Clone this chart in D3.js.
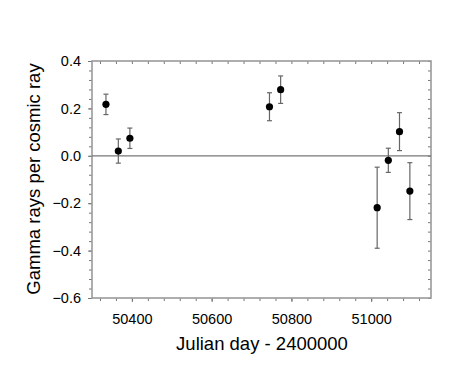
<!DOCTYPE html>
<html>
<head>
<meta charset="utf-8">
<script src="https://cdn.jsdelivr.net/npm/d3@7"></script>
<style>
  body { margin: 0; background: #fff; }
  text { font-family: "Liberation Sans", Arial, Helvetica, sans-serif; fill: #000; }
</style>
</head>
<body>
<div id="chart"></div>
<script>
// Julian day - 2400000
const days = [50335, 50366, 50395, 50745, 50773, 51015, 51043, 51071, 51097];
// gamma rays per cosmic ray
const rates = [0.217, 0.020, 0.074, 0.207, 0.279, -0.219, -0.019, 0.102, -0.149];
const errors = [0.043, 0.051, 0.043, 0.059, 0.058, 0.171, 0.051, 0.080, 0.120];

const xTicks = [50400, 50600, 50800, 51000];
const yTicks = [-0.6, -0.4, -0.2, 0.0, 0.2, 0.4];

document.addEventListener("DOMContentLoaded", function () {
    var width = 475,
        height = 382;
    var margin = { top: 61, right: 44, bottom: 84, left: 92 };

    var svg = d3.select("#chart").append("svg")
        .attr("width", width)
        .attr("height", height);

    var x = d3.scaleLinear()
        .domain([50300, 51150])
        .range([margin.left, width - margin.right]);
    var y = d3.scaleLinear()
        .domain([-0.6, 0.4])
        .range([height - margin.bottom, margin.top]);

    var frameColor = "#9a9a9a";
    var minorX = d3.range(50320, 51150, 40);
    var minorY = d3.range(-0.6, 0.401, 0.04);

    // bottom axis (ticks outward)
    var bottom = svg.append("g")
        .attr("transform", "translate(0," + y.range()[0] + ")")
        .call(d3.axisBottom(x).tickValues(minorX).tickSize(3).tickFormat(""));
    bottom.append("g").call(d3.axisBottom(x).tickValues(xTicks).tickSize(4).tickPadding(12)
        .tickFormat(d3.format("d")));

    // left axis (ticks outward)
    var left = svg.append("g")
        .attr("transform", "translate(" + x.range()[0] + ",0)")
        .call(d3.axisLeft(y).tickValues(minorY).tickSize(3).tickFormat(""));
    left.append("g").call(d3.axisLeft(y).tickValues(yTicks).tickSize(4).tickPadding(7)
        .tickFormat(d3.format(".1f")));

    // top and right axes (ticks inward)
    svg.append("g")
        .attr("transform", "translate(0," + y.range()[1] + ")")
        .call(d3.axisTop(x).tickValues(minorX).tickSizeInner(-3).tickSizeOuter(0).tickFormat(""));
    svg.append("g")
        .attr("transform", "translate(" + x.range()[1] + ",0)")
        .call(d3.axisRight(y).tickValues(minorY).tickSizeInner(-3).tickSizeOuter(0).tickFormat(""));

    svg.selectAll(".domain").remove();
    svg.selectAll(".tick line").attr("stroke", "#777").attr("stroke-width", 1);
    svg.selectAll(".tick text").style("font-size", "14.5px").attr("fill", "#000");

    // frame
    svg.append("rect")
        .attr("x", x.range()[0])
        .attr("y", y.range()[1])
        .attr("width", x.range()[1] - x.range()[0])
        .attr("height", y.range()[0] - y.range()[1])
        .attr("fill", "none")
        .attr("stroke", frameColor)
        .attr("stroke-width", 1.6);

    // zero line
    svg.append("line")
        .attr("x1", x.range()[0]).attr("x2", x.range()[1])
        .attr("y1", y(0)).attr("y2", y(0))
        .attr("stroke", "#777")
        .attr("stroke-width", 1.2);

    var pts = days.map(function (d, i) { return { x: d, y: rates[i], e: errors[i] }; });

    // error bars
    var bars = svg.append("g").attr("stroke", "#666").attr("stroke-width", 1.2);
    bars.selectAll("line.bar").data(pts).enter().append("line")
        .attr("class", "bar")
        .attr("x1", d => x(d.x)).attr("x2", d => x(d.x))
        .attr("y1", d => y(d.y - d.e)).attr("y2", d => y(d.y + d.e));
    bars.selectAll("line.capt").data(pts).enter().append("line")
        .attr("class", "capt")
        .attr("x1", d => x(d.x) - 2.5).attr("x2", d => x(d.x) + 2.5)
        .attr("y1", d => y(d.y + d.e)).attr("y2", d => y(d.y + d.e));
    bars.selectAll("line.capb").data(pts).enter().append("line")
        .attr("class", "capb")
        .attr("x1", d => x(d.x) - 2.5).attr("x2", d => x(d.x) + 2.5)
        .attr("y1", d => y(d.y - d.e)).attr("y2", d => y(d.y - d.e));

    // points
    svg.append("g").selectAll("circle").data(pts).enter().append("circle")
        .attr("cx", d => x(d.x))
        .attr("cy", d => y(d.y))
        .attr("r", 3.6)
        .attr("fill", "#000");

    // axis titles
    svg.append("text")
        .attr("x", 262)
        .attr("y", 350)
        .attr("text-anchor", "middle")
        .style("font-size", "18.5px")
        .text("Julian day - 2400000");

    svg.append("text")
        .attr("transform", "translate(39.5," + 179 + ") rotate(-90)")
        .attr("text-anchor", "middle")
        .style("font-size", "18.5px")
        .text("Gamma rays per cosmic ray");
});
</script>
</body>
</html>
